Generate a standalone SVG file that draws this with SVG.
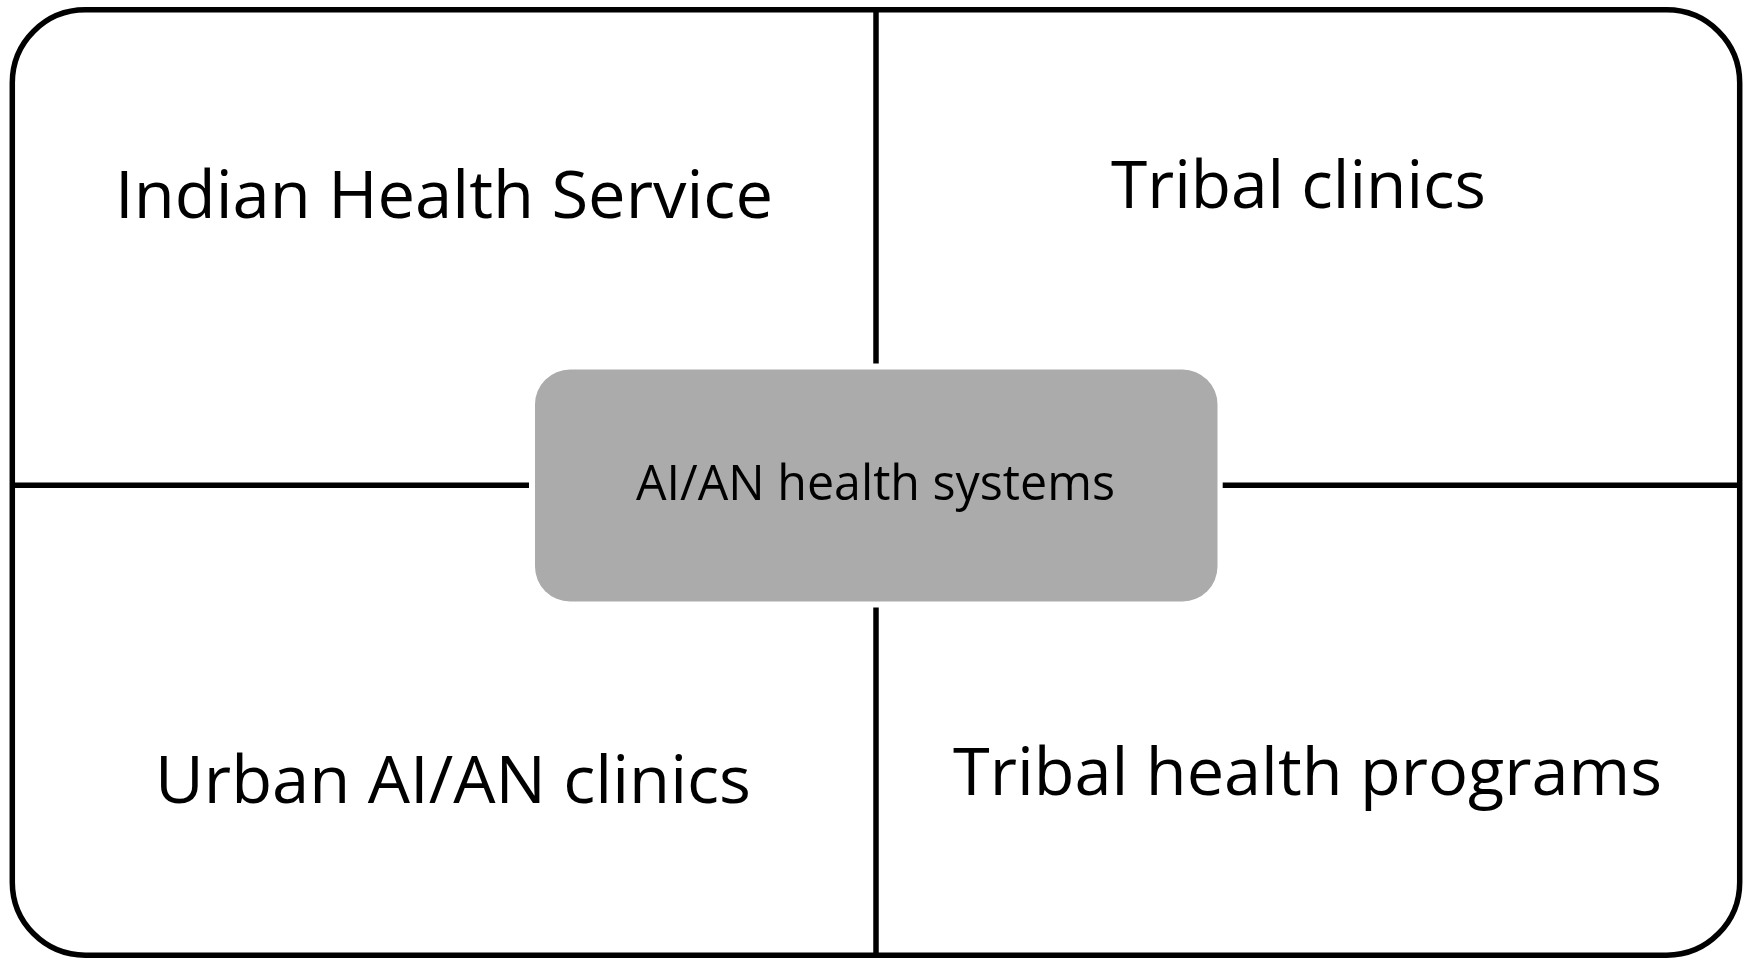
<svg xmlns="http://www.w3.org/2000/svg" width="1751" height="959" viewBox="0 0 1751 959">
<style>
.ln{stroke:#000;stroke-width:5.5;fill:none}
.big{font-family:"Open Sans","Noto Sans",sans-serif;font-size:66px;fill:#000}
.mid{font-family:"Open Sans","Noto Sans",sans-serif;font-size:49px;fill:#000}
</style>
<rect width="1751" height="959" fill="#fff"/>
<g id="frame"><rect class="ln" x="12.3" y="9.8" width="1727.4" height="945.4" rx="73" ry="73"/></g>
<g id="connectors">
<line class="ln" x1="876" y1="10" x2="876" y2="363.5"/>
<line class="ln" x1="876" y1="607.5" x2="876" y2="955"/>
<line class="ln" x1="12" y1="485.2" x2="529" y2="485.2"/>
<line class="ln" x1="1222.7" y1="485.2" x2="1740" y2="485.2"/>
</g>
<g id="center">
<rect x="535" y="369.5" width="682.5" height="232" rx="35" ry="35" fill="#ababab"/>
<text class="mid" x="636" y="500" textLength="479" lengthAdjust="spacingAndGlyphs">AI/AN health systems</text>
</g>
<g id="ihs"><text class="big" x="115" y="218" textLength="658" lengthAdjust="spacingAndGlyphs">Indian Health Service</text></g>
<g id="tribal-clinics"><text class="big" x="1111" y="208" textLength="375" lengthAdjust="spacingAndGlyphs">Tribal clinics</text></g>
<g id="urban"><text class="big" x="155" y="803" textLength="596" lengthAdjust="spacingAndGlyphs">Urban AI/AN clinics</text></g>
<g id="tribal-programs"><text class="big" x="953" y="795" textLength="709" lengthAdjust="spacingAndGlyphs">Tribal health programs</text></g>
</svg>
